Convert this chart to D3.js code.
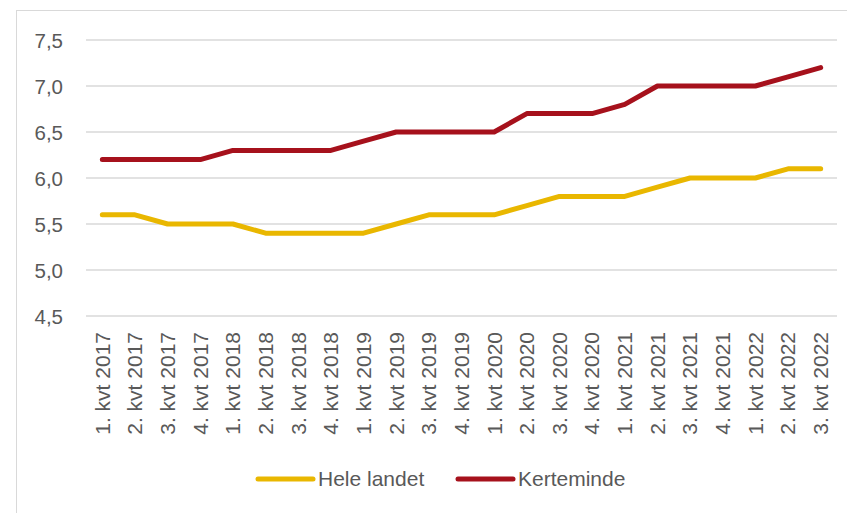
<!DOCTYPE html>
<html><head><meta charset="utf-8">
<script src="https://cdn.jsdelivr.net/npm/d3@7"></script>
<style>body{margin:0;background:#fff}svg{display:block}</style>
</head><body>
<svg id="c" width="847" height="513"></svg>
<script>
const categories = ["1. kvt 2017","2. kvt 2017","3. kvt 2017","4. kvt 2017","1. kvt 2018","2. kvt 2018","3. kvt 2018","4. kvt 2018","1. kvt 2019","2. kvt 2019","3. kvt 2019","4. kvt 2019","1. kvt 2020","2. kvt 2020","3. kvt 2020","4. kvt 2020","1. kvt 2021","2. kvt 2021","3. kvt 2021","4. kvt 2021","1. kvt 2022","2. kvt 2022","3. kvt 2022"];
const heleLandet = [5.6,5.6,5.5,5.5,5.5,5.4,5.4,5.4,5.4,5.5,5.6,5.6,5.6,5.7,5.8,5.8,5.8,5.9,6.0,6.0,6.0,6.1,6.1];
const kerteminde = [6.2,6.2,6.2,6.2,6.3,6.3,6.3,6.3,6.4,6.5,6.5,6.5,6.5,6.7,6.7,6.7,6.8,7.0,7.0,7.0,7.0,7.1,7.2];
const yTicks = [4.5,5.0,5.5,6.0,6.5,7.0,7.5];
const seriesNames = ["Hele landet","Kerteminde"];
const colors = ["#E9B700","#A6111C"];

const svg = d3.select("#c");
const font = "'Liberation Sans', Arial, sans-serif";
const textColor = "#595959";
const L = 86, R = 837, T = 40, B = 316;

svg.append("rect").attr("x",16.5).attr("y",10.5).attr("width",900).attr("height",600)
  .attr("fill","none").attr("stroke","#d9d9d9").attr("stroke-width",1);

const x = d3.scaleBand().domain(categories).range([L,R]);
const y = d3.scaleLinear().domain([4.5,7.5]).range([B,T]);

// gridlines
svg.append("g").selectAll("line").data(yTicks).join("line")
  .attr("x1",L).attr("x2",R).attr("y1",d=>y(d)).attr("y2",d=>y(d))
  .attr("stroke","#d9d9d9").attr("stroke-width",1.3);

// y axis labels
const yAxis = d3.axisLeft(y).tickValues(yTicks).tickSize(0).tickPadding(0)
  .tickFormat(d=>d3.format(".1f")(d).replace(".",","));
const gy = svg.append("g").attr("transform",`translate(63,0)`).call(yAxis);
gy.select(".domain").remove();
gy.selectAll("text").attr("font-family",font).attr("font-size",20.5).attr("fill",textColor).attr("dy","0.35em");

// x axis labels
const xAxis = d3.axisBottom(x).tickSize(0).tickPadding(0);
const gx = svg.append("g").attr("transform",`translate(0,${B})`).call(xAxis);
gx.select(".domain").remove();
gx.selectAll("text").attr("font-family",font).attr("font-size",21).attr("fill",textColor)
  .attr("text-anchor","end").attr("transform","translate(0,16) rotate(-90)")
  .attr("x",0).attr("y",0).attr("dy","0.35em");

// lines
const line = d3.line().x((d,i)=>x(categories[i])+x.bandwidth()/2).y(d=>y(d));
[heleLandet,kerteminde].forEach((s,k)=>{
  svg.append("path").datum(s).attr("d",line).attr("fill","none")
    .attr("stroke",colors[k]).attr("stroke-width",5).attr("stroke-linecap","round").attr("stroke-linejoin","round");
});

// legend
const legX = [258,458];
seriesNames.forEach((n,k)=>{
  const g = svg.append("g").attr("transform",`translate(${legX[k]},479)`);
  g.append("line").attr("x1",0).attr("x2",55).attr("stroke",colors[k]).attr("stroke-width",5).attr("stroke-linecap","round");
  g.append("text").attr("x",60).attr("dy","0.35em").attr("font-family",font).attr("font-size",21).attr("fill",textColor).text(n);
});
</script>
</body></html>
